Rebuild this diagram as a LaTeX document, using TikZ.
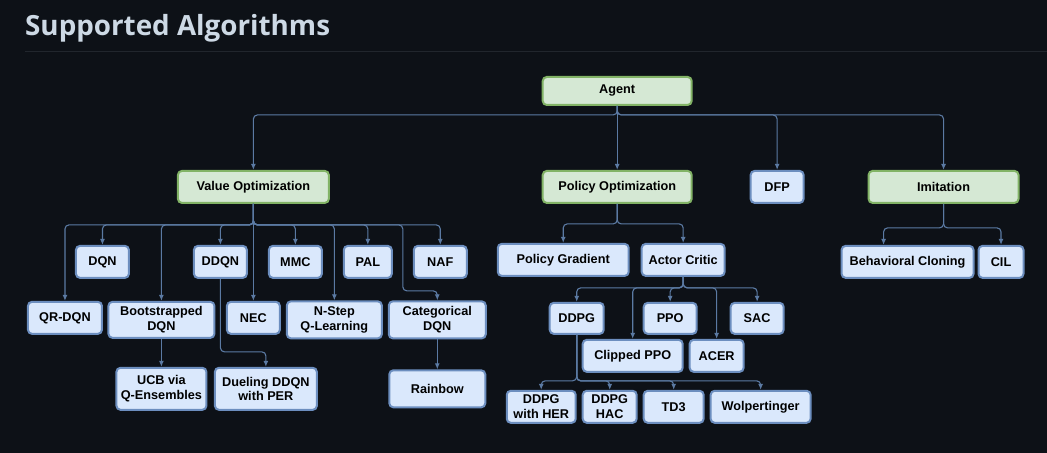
\documentclass[tikz,border=0pt]{standalone}
\usepackage{fontspec}
\setmainfont{Liberation Sans}
\newfontfamily\titlefont{Open Sans}
\usepackage{xcolor}
\usepackage{tikz}
\usetikzlibrary{arrows.meta,positioning}

\definecolor{bgdark}{HTML}{0D1117}
\definecolor{rulegray}{HTML}{21262D}
\definecolor{titletext}{HTML}{CDD9E5}
\definecolor{grfill}{HTML}{D5E8D4}
\definecolor{grline}{HTML}{82B366}
\definecolor{blfill}{HTML}{DAE8FC}
\definecolor{blline}{HTML}{6C8EBF}
\definecolor{edgeblue}{HTML}{5B7AA3}

\begin{document}
\begin{tikzpicture}[
  x=1pt, y=-1pt,
  box/.style={draw, rounded corners=4pt, line width=2pt, inner sep=2pt,
    minimum height=32pt, align=center,
    font=\bfseries\fontsize{12.7}{14.5}\selectfont},
  group/.style={box, fill=grfill, draw=grline},
  algo/.style={box, fill=blfill, draw=blline},
  link/.style={-{Latex[length=6pt,width=5pt]}, line width=1.1pt,
    draw=edgeblue, rounded corners=4pt}
]
  \fill[bgdark] (0,0) rectangle (1047,453);
  \node[anchor=base west, inner sep=0pt, text=titletext,
    font=\titlefont\bfseries\fontsize{27.8}{30}\selectfont] (title) at (25,36)
    {Supported Algorithms};
  \draw[rulegray, line width=1pt] (25,52) -- (1047,52);

  % top level
  \node[group, minimum width=149pt, minimum height=28pt] (agent) at (617.5,91) {Agent};
  \node[group, minimum width=151pt] (valopt) at (253.5,187) {Value Optimization};
  \node[group, minimum width=149pt] (polopt) at (617.5,187) {Policy Optimization};
  \node[algo, minimum width=53pt] (dfp) at (777.5,187) {DFP};
  \node[group, minimum width=150pt] (imit) at (944,187) {Imitation};

  % value optimization
  \node[algo, minimum width=53pt] (dqn) at (102.5,262) {DQN};
  \node[algo, minimum width=53pt] (ddqn) at (220.5,262) {DDQN};
  \node[algo, minimum width=53pt] (mmc) at (295.5,262) {MMC};
  \node[algo, minimum width=48pt] (pal) at (368,262) {PAL};
  \node[algo, minimum width=53pt] (naf) at (440.5,262) {NAF};
  \node[algo, minimum width=74pt] (qrdqn) at (65,318) {QR-DQN};
  \node[algo, minimum width=106pt, minimum height=36pt] (bootdqn) at (161.5,320) {Bootstrapped\\DQN};
  \node[algo, minimum width=53pt] (nec) at (253.5,318) {NEC};
  \node[algo, minimum width=95pt, minimum height=37pt] (nstep) at (334.5,320) {N-Step\\Q-Learning};
  \node[algo, minimum width=97pt, minimum height=37pt] (catdqn) at (437.5,320) {Categorical\\DQN};
  \node[algo, minimum width=90pt, minimum height=42pt] (ucb) at (161.5,389) {UCB via\\Q-Ensembles};
  \node[algo, minimum width=102pt, minimum height=42pt] (dueling) at (266,389) {Dueling DDQN\\with PER};
  \node[algo, minimum width=96pt, minimum height=37pt] (rainbow) at (437.5,389) {Rainbow};
  \coordinate (catbend) at (403,291);

  % policy optimization
  \node[algo, minimum width=131pt] (polgrad) at (563.5,260) {Policy Gradient};
  \node[algo, minimum width=83pt] (actcrit) at (683.5,260) {Actor Critic};
  \node[algo, minimum width=54pt, minimum height=31pt] (ddpg) at (577,318.5) {DDPG};
  \node[algo, minimum width=53pt, minimum height=31pt] (ppo) at (670.5,318.5) {PPO};
  \node[algo, minimum width=53pt, minimum height=31pt] (sac) at (757.5,318.5) {SAC};
  \node[algo, minimum width=100pt] (clipppo) at (633,356) {Clipped PPO};
  \node[algo, minimum width=54pt] (acer) at (717,356) {ACER};
  \node[algo, minimum width=69pt] (ddpgher) at (541.5,407) {DDPG\\with HER};
  \node[algo, minimum width=54pt] (ddpghac) at (610,407) {DDPG\\HAC};
  \node[algo, minimum width=60pt] (tdthree) at (674,407) {TD3};
  \node[algo, minimum width=100pt] (wolp) at (761,407) {Wolpertinger};

  % imitation
  \node[algo, minimum width=132pt] (behclon) at (908,262) {Behavioral Cloning};
  \node[algo, minimum width=45pt] (cil) at (1001.5,262) {CIL};

  % agent links
  \draw[link] (agent.south) -- (polopt.north);
  \draw[link] (agent.south) -- ++(0,9) -| (valopt.north);
  \draw[link] (agent.south) -- ++(0,9) -| (dfp.north);
  \draw[link] (agent.south) -- ++(0,9) -| (imit.north);

  % value optimization links
  \draw[link] (valopt.south) -- (nec.north);
  \foreach \child in {qrdqn,dqn,bootdqn,ddqn,mmc,nstep,pal,naf}
    \draw[link] (valopt.south) -- ++(0,21) -| (\child.north);
  \draw[link] (valopt.south) -- ++(0,21) -| (catbend) -| (catdqn.north);
  \draw[link] (bootdqn.south) -- (ucb.north);
  \draw[link] (ddqn.south) -- ++(0,73) -| (dueling.north);
  \draw[link] (catdqn.south) -- (rainbow.north);

  % policy optimization links
  \draw[link] (polopt.south) -- ++(0,20) -| (polgrad.north);
  \draw[link] (polopt.south) -- ++(0,20) -| (actcrit.north);
  \foreach \child in {ddpg,clipppo,ppo,acer,sac}
    \draw[link] (actcrit.south) -- ++(0,11) -| (\child.north);
  \foreach \child in {ddpgher,ddpghac,tdthree,wolp}
    \draw[link] (ddpg.south) -- ++(0,46) -| (\child.north);

  % imitation links
  \draw[link] (imit.south) -- ++(0,24) -| ([xshift=-24pt]behclon.north);
  \draw[link] (imit.south) -- ++(0,24) -| (cil.north);
\end{tikzpicture}
\end{document}
